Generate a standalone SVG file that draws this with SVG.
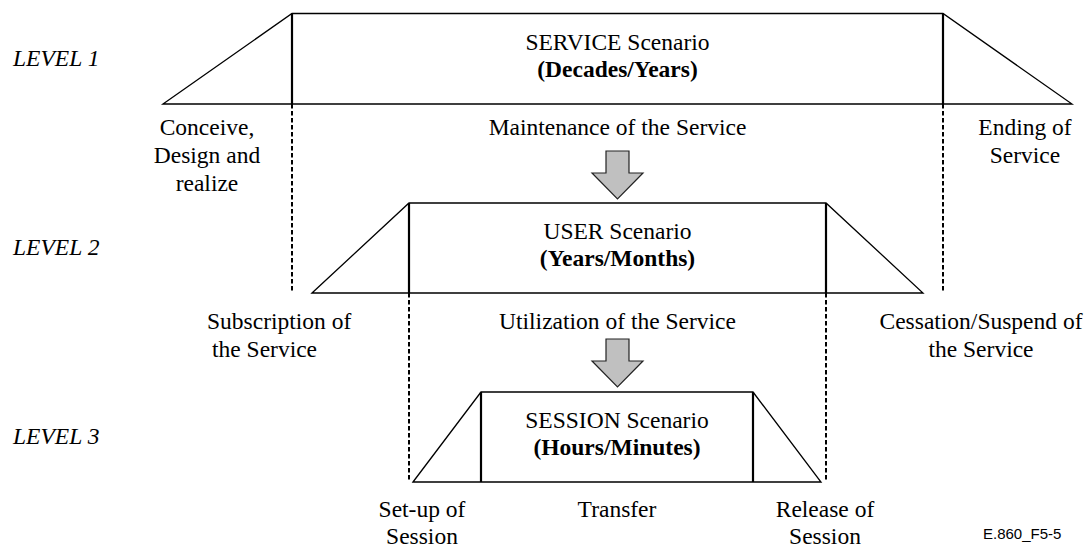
<svg xmlns="http://www.w3.org/2000/svg" width="1088" height="547" viewBox="0 0 1088 547">
  <style>
    .t { font-family: "Liberation Serif", "Times New Roman", serif; font-size: 23.5px; fill: #000; }
    .c { text-anchor: middle; }
    .b { font-weight: bold; }
    .lvl { font-family: "Liberation Serif", "Times New Roman", serif; font-size: 23.5px; font-style: italic; fill: #000; }
    .fig { font-family: "Liberation Sans", Arial, sans-serif; font-size: 15px; fill: #000; }
    .edge { fill: none; stroke: #000; stroke-width: 1.3; stroke-linejoin: miter; }
    .side { stroke: #000; stroke-width: 2.2; }
    .dash { stroke: #000; stroke-width: 2; stroke-dasharray: 4.5 2.5; }
    .arrow { fill: #c0c0c0; stroke: #222; stroke-width: 1.2; stroke-linejoin: miter; }
  </style>

  <!-- level labels -->
  <g id="level-labels">
    <text class="lvl" x="13" y="66">LEVEL  1</text>
    <text class="lvl" x="13" y="255">LEVEL  2</text>
    <text class="lvl" x="13" y="444">LEVEL  3</text>
  </g>

  <!-- LEVEL 1: service scenario -->
  <g id="service-scenario">
    <polygon class="edge" points="163,104 292,13.5 943,13.5 1072,104"/>
    <line class="side" x1="292" y1="13.5" x2="292" y2="104"/>
    <line class="side" x1="943" y1="13.5" x2="943" y2="104"/>
    <text class="t c" x="617.5" y="50">SERVICE Scenario</text>
    <text class="t c b" x="617.5" y="77">(Decades/Years)</text>
  </g>
  <g id="service-phases">
    <text class="t c" x="207" y="135">Conceive,</text>
    <text class="t c" x="207" y="163">Design and</text>
    <text class="t c" x="207" y="191">realize</text>
    <text class="t c" x="617.5" y="135">Maintenance of the Service</text>
    <text class="t c" x="1025" y="135">Ending of</text>
    <text class="t c" x="1025" y="163">Service</text>
  </g>

  <!-- LEVEL 2: user scenario -->
  <g id="user-scenario">
    <polygon class="edge" points="312,293 409,203 826,203 923,293"/>
    <line class="side" x1="409" y1="203" x2="409" y2="293"/>
    <line class="side" x1="826" y1="203" x2="826" y2="293"/>
    <text class="t c" x="617.5" y="239">USER Scenario</text>
    <text class="t c b" x="617.5" y="266">(Years/Months)</text>
  </g>
  <g id="user-phases">
    <text class="t" x="207" y="329">Subscription of</text>
    <text class="t" x="212" y="357">the Service</text>
    <text class="t c" x="617.5" y="329">Utilization of the Service</text>
    <text class="t c" x="981" y="329">Cessation/Suspend of</text>
    <text class="t c" x="981" y="357">the Service</text>
  </g>

  <!-- LEVEL 3: session scenario -->
  <g id="session-scenario">
    <polygon class="edge" points="413,482 481,392 753,392 821,482"/>
    <line class="side" x1="481" y1="392" x2="481" y2="482"/>
    <line class="side" x1="753" y1="392" x2="753" y2="482"/>
    <text class="t c" x="617" y="428">SESSION Scenario</text>
    <text class="t c b" x="617" y="455">(Hours/Minutes)</text>
  </g>
  <g id="session-phases">
    <text class="t c" x="422" y="517">Set-up of</text>
    <text class="t c" x="422" y="544">Session</text>
    <text class="t c" x="617" y="517">Transfer</text>
    <text class="t c" x="825" y="517">Release of</text>
    <text class="t c" x="825" y="544">Session</text>
  </g>

  <!-- dashed guides and refinement arrows -->
  <g id="connectors">
    <line class="dash" x1="292" y1="104" x2="292" y2="293"/>
    <line class="dash" x1="943" y1="104" x2="943" y2="293"/>
    <line class="dash" x1="409" y1="293" x2="409" y2="482"/>
    <line class="dash" x1="826" y1="293" x2="826" y2="482"/>
    <polygon class="arrow" points="606,151 629,151 629,173 643,173 617.5,199 592,173 606,173"/>
    <polygon class="arrow" points="606,339 629,339 629,361 643,361 617.5,387 592,361 606,361"/>
  </g>

  <text class="fig" x="983" y="539">E.860_F5-5</text>
</svg>
